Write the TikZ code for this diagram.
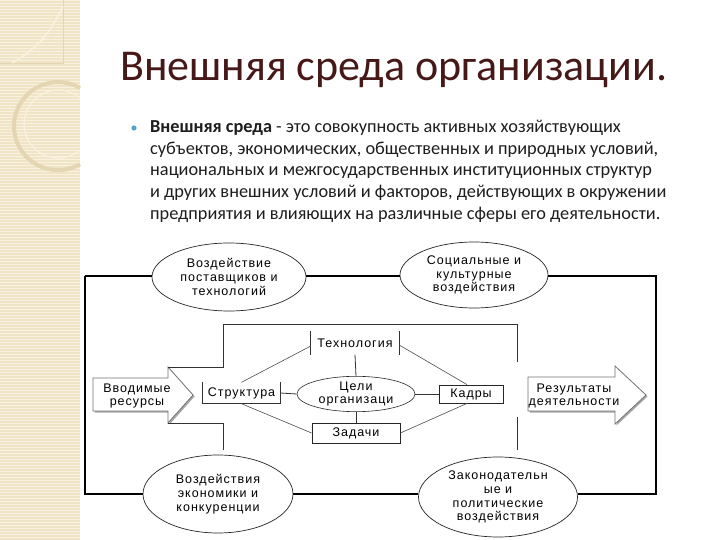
\documentclass[tikz,border=0pt]{standalone}
\usepackage{fontspec}
\setmainfont{Carlito}
\newfontfamily\diagfam[LetterSpace=8]{Liberation Sans}
\usetikzlibrary{shapes.geometric,calc}
\definecolor{titlec}{RGB}{70,24,24}
\definecolor{bodyc}{RGB}{30,30,30}
\definecolor{bulletc}{RGB}{80,165,200}
\definecolor{stripbg}{RGB}{240,228,198}
\definecolor{stripln}{RGB}{249,242,224}
\definecolor{stripdeco}{RGB}{228,214,178}
\newcommand\dfont{\diagfam\fontsize{12.5}{13.8}\selectfont}
\tikzset{
  ell/.style={ellipse, draw=black!85, line width=0.7pt, inner sep=0pt, align=center, font=\dfont},
  plain/.style={inner sep=0pt, align=center, font=\dfont},
  frame/.style={line width=1.2pt, black},
  link/.style={line width=0.8pt, black!80},
  diag/.style={line width=0.6pt, black!70},
  arrowbox/.style={fill=white, draw=black!55, line width=0.8pt},
  arrowshadow/.style={fill=black!35}
}
\begin{document}
\begin{tikzpicture}[x=1pt,y=-1pt]
\useasboundingbox (0,0) rectangle (720,540);
\fill[white] (0,0) rectangle (720,540);
% left decorative strip
\fill[stripbg] (0,0) rectangle (80,540);
\foreach \y in {0,3,...,540} \fill[stripln] (0,\y) rectangle (80,\y+1.2);
\draw[stripdeco, line width=0.8pt] (0,63) -- (63,63) -- (63,0);
\draw[stripln, line width=1.5pt] (63,6) .. controls (50,35) and (35,50) .. (12,63);
\draw[stripdeco, line width=4pt] (80,88) arc[start angle=-60, end angle=-300, radius=44];
\draw[stripln, line width=1.2pt] (80,98) arc[start angle=-50, end angle=-310, radius=34];
% title and text
\node[anchor=base west, inner sep=0pt, text=titlec, font=\fontsize{44}{50}\selectfont] (title) at (120,81) {Внешняя среда организации.};
\fill[bulletc] (134,128) circle (2.6);
\begin{scope}[every node/.style={anchor=base west, inner sep=0pt, text=bodyc, font=\fontsize{18.3}{21}\selectfont}]
\node (l1) at (150,133) {\textbf{Внешняя среда} - это совокупность активных хозяйствующих};
\node (l2) at (150,154.5) {субъектов, экономических, общественных и природных условий,};
\node (l3) at (150,176) {национальных и межгосударственных институционных структур};
\node (l4) at (150,197.5) {и других внешних условий и факторов, действующих в окружении};
\node (l5) at (150,219) {предприятия и влияющих на различные сферы его деятельности.};
\end{scope}
% outer ellipses
\node[ell, minimum width=154, minimum height=68] (e1) at (229,277) {Воздействие\\поставщиков и\\технологий};
\node[ell, minimum width=148, minimum height=66] (e2) at (474,275) {Социальные и\\культурные\\воздействия};
\node[ell, minimum width=150, minimum height=78] (e3) at (218,494) {Воздействия\\экономики и\\конкуренции};
\node[ell, minimum width=159, minimum height=80] (e4) at (498,497) {Законодательн\\ые и\\политические\\воздействия};
% outer frame
\coordinate (otl) at (85,276);
\coordinate (otr) at (656,276);
\coordinate (obr) at (656,494);
\coordinate (obl) at (85,494);
\draw[frame] (otl) -- (otl -| e1.west);
\draw[frame] (e1.east |- otl) -- (e2.west |- otl);
\draw[frame] (e2.east |- otl) -- (otr) -- (obr) -- (obr -| e4.east);
\draw[frame] (e4.west |- obl) -- (e3.east |- obl);
\draw[frame] (e3.west |- obl) -- (obl) -- (otl);
% arrows
\coordinate (la1) at (93,378); \coordinate (la2) at (168,378); \coordinate (laht) at (168,367);
\coordinate (latip) at (193,395); \coordinate (lahb) at (168,423); \coordinate (la3) at (168,411); \coordinate (la4) at (93,411);
\fill[arrowshadow] ($(la1)+(1.5,1.5)$) -- ($(la2)+(1.5,1.5)$) -- ($(laht)+(1.5,1.5)$) -- ($(latip)+(1.5,1.5)$) -- ($(lahb)+(1.5,1.5)$) -- ($(la3)+(1.5,1.5)$) -- ($(la4)+(1.5,1.5)$) -- cycle;
\draw[arrowbox] (la1) -- (la2) -- (laht) -- (latip) -- (lahb) -- (la3) -- (la4) -- cycle;
\node[plain] (inres) at (137,396) {Вводимые\\ресурсы};
\coordinate (ra1) at (528,377); \coordinate (ra2) at (615,377); \coordinate (raht) at (615,366);
\coordinate (ratip) at (646,395); \coordinate (rahb) at (615,424); \coordinate (ra3) at (615,411); \coordinate (ra4) at (528,411);
\fill[arrowshadow] ($(ra1)+(1.5,1.5)$) -- ($(ra2)+(1.5,1.5)$) -- ($(raht)+(1.5,1.5)$) -- ($(ratip)+(1.5,1.5)$) -- ($(rahb)+(1.5,1.5)$) -- ($(ra3)+(1.5,1.5)$) -- ($(ra4)+(1.5,1.5)$) -- cycle;
\draw[arrowbox] (ra1) -- (ra2) -- (raht) -- (ratip) -- (rahb) -- (ra3) -- (ra4) -- cycle;
\node[plain] (outres) at (574,396) {Результаты\\деятельности};
% inner frame
\coordinate (itl) at (223,324);
\coordinate (itr) at (517,324);
\coordinate (ir1) at (517,362);
\coordinate (ir2) at (517,417);
\coordinate (ir3) at (517,450);
\coordinate (il3) at (223,450);
\draw[link] (laht) -- (laht -| itl) -- (itl) -- (itr) -- (ir1);
\draw[link] (ir2) -- (ir3);
\draw[link] (lahb) -- (lahb -| il3) -- (il3);
% inner elements
\node[plain, minimum width=88, minimum height=23] (tech) at (355,343) {Технология};
\draw[link] (tech.north west) -- (tech.south west);
\draw[link] (tech.north east) -- (tech.south east);
\node[plain, minimum width=77, minimum height=21] (str) at (241.5,393) {Структура};
\draw[link] (str.north west) -- (str.south west) -- (str.south east) -- (str.north east);
\node[ell, minimum width=118, minimum height=34, line width=0.6pt] (goal) at (356,394) {Цели\\организаци};
\node[plain, draw=black!85, line width=0.8pt, minimum width=64, minimum height=18] (kad) at (471,394) {Кадры};
\node[plain, draw=black!85, line width=0.8pt, minimum width=88, minimum height=20] (zad) at (356,433) {Задачи};
\draw[link] (tech.south) -- (goal.north);
\draw[link] (str.east) -- (goal.west);
\draw[link] (goal.east) -- (kad.west);
\draw[link] (goal.south) -- (zad.north);
\draw[diag] (str.north) -- ($(tech.west)+(0,3)$);
\draw[diag] (str.south) -- (zad.west);
\draw[diag] ($(tech.east)+(0,2)$) -- ($(kad.north)+(-4,0)$);
\draw[diag] (zad.east) -- ($(kad.south)+(-4,0)$);
\end{tikzpicture}
\end{document}
